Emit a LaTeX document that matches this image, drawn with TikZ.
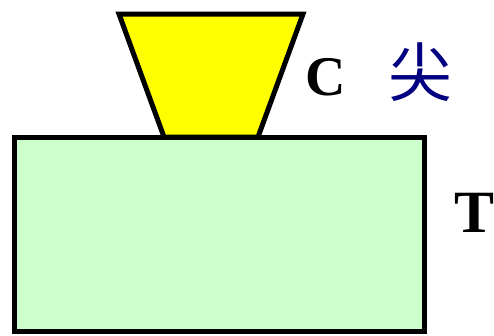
\documentclass[tikz,border=0pt]{standalone}
\usepackage{fontspec}
\setmainfont{Liberation Serif}
\newfontfamily\cjk{Noto Sans CJK SC}
\definecolor{tipyellow}{RGB}{255,255,0}
\definecolor{samplegreen}{RGB}{204,255,204}
\definecolor{navyblue}{RGB}{0,0,128}
\tikzset{
  shapeline/.style={draw=black, line width=5pt, line join=miter},
  lbl/.style={inner sep=0pt, font=\bfseries\fontsize{56}{56}\selectfont},
}
\begin{document}
\begin{tikzpicture}[x=1pt,y=-1pt]
\useasboundingbox (0,0) rectangle (494,335);
\fill[white] (0,0) rectangle (494,335);
\draw[shapeline, fill=samplegreen] (14,137) rectangle (424,331);
\draw[shapeline, fill=tipyellow] (119,14) -- (303,14) -- (258,137) -- (164,137) -- cycle;
\node[lbl] (c) at (326,77) {C};
\node[inner sep=0pt, text=navyblue, font=\cjk\fontsize{64}{64}\selectfont] (jian) at (420,72) {尖};
\node[lbl, font=\bfseries\fontsize{60}{60}\selectfont] (t) at (474,213) {T};
\end{tikzpicture}
\end{document}
